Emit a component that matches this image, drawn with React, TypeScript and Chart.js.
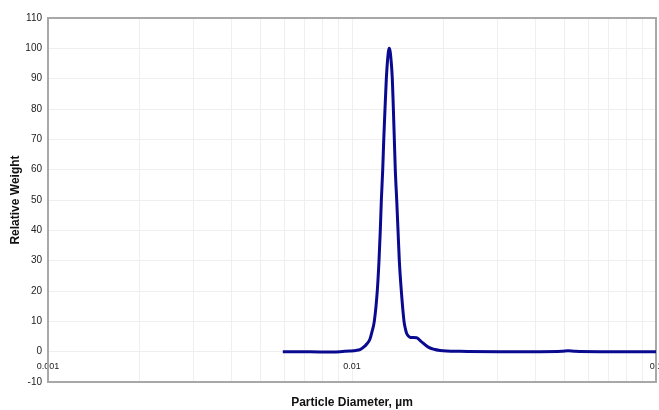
import React, { useEffect, useRef } from "react";
import { Chart, registerables } from "chart.js";

Chart.register(...registerables);

// Particle diameter (µm) and relative weight
const diameters = [
  0.00592, 0.00675, 0.00785, 0.00913, 0.00985, 0.01031, 0.01062, 0.01089,
  0.0112, 0.01146, 0.01163, 0.01184, 0.01211, 0.01227, 0.01239, 0.01249,
  0.01262, 0.01272, 0.01284, 0.01297, 0.01316, 0.01326, 0.01337, 0.01357,
  0.01368, 0.01378, 0.01388, 0.01403, 0.01417, 0.01431, 0.01453, 0.01483,
  0.01498, 0.01513, 0.01535, 0.0156, 0.01632, 0.01683, 0.01782, 0.01948,
  0.02266, 0.03068, 0.04154, 0.04908, 0.05135, 0.05415, 0.06544, 0.08214, 0.1,
];
const weights = [
  0, 0, -0.1, 0, 0.2, 0.4, 0.7, 1.4,
  2.6, 4.2, 6.5, 10, 20, 30, 40, 50,
  60, 70, 80, 90, 98.5, 100, 98.5, 90,
  80, 70, 60, 50, 40, 30, 20, 10,
  7.6, 6, 5.1, 4.7, 4.6, 3.5, 1.5, 0.4,
  0.1, 0, 0, 0.1, 0.3, 0.1, 0, 0, 0,
];

const xTickValues = [0.001, 0.01, 0.1];
const xTickLabels = ["0.001", "0.01", "0.1"];
const xGridMantissas = [1, 2, 3, 4, 5, 6, 7, 8, 9];
const xGridDecades = [0.001, 0.01];
const yMin = -10;
const yMax = 110;
const yStep = 10;

const FONT = "'Liberation Sans', Arial, Helvetica, sans-serif";

export default function App() {
  const ref = useRef<HTMLCanvasElement>(null);

  useEffect(() => {
    if (!ref.current) return;
    const framePlugin = {
      id: "frame",
      beforeDatasetsDraw(chart: any) {
        const { ctx, chartArea: a } = chart;
        ctx.save();
        ctx.strokeStyle = "#a8a8a8";
        ctx.lineWidth = 2;
        ctx.strokeRect(a.left, a.top, a.right - a.left, a.bottom - a.top);
        ctx.restore();
      },
    };

    const gridValues: number[] = [];
    xGridDecades.forEach((d) => xGridMantissas.forEach((m) => gridValues.push(m * d)));
    gridValues.push(0.1);

    const chart = new Chart(ref.current, {
      type: "line",
      data: {
        datasets: [
          {
            data: diameters.map((d, i) => ({ x: d, y: weights[i] })),
            xAxisID: "x",
            yAxisID: "y",
            borderColor: "#0a0a90",
            borderWidth: 3,
            pointRadius: 0,
            cubicInterpolationMode: "monotone",
            fill: false,
          },
        ],
      },
      options: {
        responsive: false,
        animation: false,
        layout: { padding: { top: 18, right: 3, left: 0, bottom: 0 } },
        plugins: {
          legend: { display: false },
          tooltip: { enabled: false },
        },
        scales: {
          x: {
            type: "logarithmic",
            min: 0.001,
            max: 0.1,
            position: { y: 0 } as any,
            grid: { display: false, drawTicks: true, tickLength: 9 },
            border: { display: false },
            afterBuildTicks: (scale: any) => {
              scale.ticks = xTickValues.map((v) => ({ value: v }));
            },
            afterFit: (scale: any) => {
              scale.paddingLeft = 0;
              scale.paddingRight = 0;
            },
            ticks: {
              autoSkip: false,
              maxRotation: 0,
              padding: 0,
              color: "#222",
              font: { family: FONT, size: 9 },
              callback: (v: any) => {
                const i = xTickValues.findIndex((t) => Math.abs(t - Number(v)) < 1e-9);
                return i >= 0 ? xTickLabels[i] : null;
              },
            },
          },
          x2: {
            type: "logarithmic",
            min: 0.001,
            max: 0.1,
            position: "bottom",
            afterBuildTicks: (scale: any) => {
              scale.ticks = gridValues.map((v) => ({ value: v }));
            },
            afterFit: (scale: any) => {
              scale.height = 28;
              scale.paddingLeft = 0;
              scale.paddingRight = 0;
            },
            grid: { color: "#efefef", lineWidth: 1, drawTicks: false },
            border: { display: false },
            ticks: { display: false, autoSkip: false },
            title: {
              display: true,
              text: "Particle Diameter, µm",
              color: "#111",
              font: { family: FONT, size: 12, weight: "bold" },
              padding: { top: 0, bottom: 0 },
            },
          },
          y: {
            type: "linear",
            min: yMin,
            max: yMax,
            afterFit: (scale: any) => {
              scale.width = 48;
            },
            grid: { color: "#efefef", lineWidth: 1, drawTicks: false },
            border: { display: false },
            ticks: {
              stepSize: yStep,
              padding: 6,
              color: "#222",
              font: { family: FONT, size: 10 },
            },
            title: {
              display: true,
              text: "Relative Weight",
              color: "#111",
              font: { family: FONT, size: 12, weight: "bold" },
              padding: { top: 8, bottom: 0 },
            },
          },
        },
      },
      plugins: [framePlugin],
    } as any);

    return () => chart.destroy();
  }, []);

  return (
    <div style={{ position: "absolute", left: 0, top: 0, width: 659, height: 410 }}>
      <canvas ref={ref} width={659} height={410} style={{ display: "block" }} />
    </div>
  );
}
